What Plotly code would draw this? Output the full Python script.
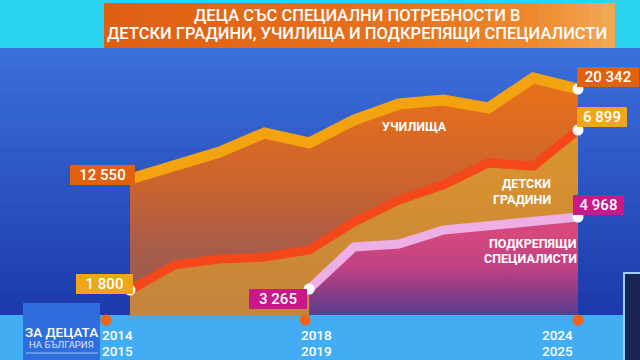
import plotly.graph_objects as go

# ---------------- data ----------------
years = ["2014/2015", "2015/2016", "2016/2017", "2017/2018", "2018/2019", "2019/2020",
         "2020/2021", "2021/2022", "2022/2023", "2023/2024", "2024/2025"]
schools = [12550, 13680, 14890, 16530, 15670, 17660, 19040, 19390, 18700, 21300, 20342]
kindergartens = [1800, 2600, 2790, 2850, 3080, 3970, 4670, 5150, 5850, 5750, 6899]
specialist_years = years[4:]
specialists = [3265, 4260, 4330, 4660, 4760, 4850, 4968]
tick_years = [years[0], years[4], years[10]]
title_lines = ["ДЕЦА СЪС СПЕЦИАЛНИ ПОТРЕБНОСТИ В",
               "ДЕТСКИ ГРАДИНИ, УЧИЛИЩА И ПОДКРЕПЯЩИ СПЕЦИАЛИСТИ"]
name_schools = ["УЧИЛИЩА"]
name_kinder = ["ДЕТСКИ", "ГРАДИНИ"]
name_spec = ["ПОДКРЕПЯЩИ", "СПЕЦИАЛИСТИ"]
logo_lines = ["ЗА ДЕЦАТА", "НА БЪЛГАРИЯ"]

# ---------------- layout helpers ----------------
W, H = 640, 360
TOP, BASE = 48, 315
FONT = "Roboto"


def px(x):
    return x / W


def py(y):
    return (BASE - y) / (BASE - TOP)


def hex2rgb(h):
    h = h.lstrip("#")
    return tuple(int(h[i:i + 2], 16) for i in (0, 2, 4))


def lerp(c1, c2, t):
    a, b = hex2rgb(c1), hex2rgb(c2)
    return "rgb(%d,%d,%d)" % tuple(round(a[i] + (b[i] - a[i]) * t) for i in range(3))


def fmt(v):
    return f"{v:,}".replace(",", " ")


Y_SCH = [775, 23892]
Y_KIN = [1003, 9513]
Y_SPE = [2650, 8965]

fig = go.Figure()

# schools area
fig.add_trace(go.Scatter(
    x=years, y=schools, yaxis="y", mode="lines", fill="tozeroy",
    line=dict(color="#f3a30f", width=11),
    fillgradient=dict(type="vertical", start=Y_SCH[0], stop=Y_SCH[1],
                      colorscale=[[0, "#985a52"], [0.24, "#a65c4a"], [0.5, "#cc642e"],
                                  [0.8, "#e46e1c"], [1, "#ea721a"]]),
    hoverinfo="skip"))
# kindergarten area
fig.add_trace(go.Scatter(
    x=years, y=kindergartens, yaxis="y2", mode="lines", fill="tozeroy",
    line=dict(color="#f4471a", width=9),
    fillgradient=dict(type="vertical", start=Y_KIN[0], stop=Y_KIN[1],
                      colorscale=[[0, "#c4843c"], [0.5, "#d69030"], [1, "#e09a28"]]),
    hoverinfo="skip"))
# specialists area
fig.add_trace(go.Scatter(
    x=specialist_years, y=specialists, yaxis="y3", mode="lines", fill="tozeroy",
    line=dict(color="#eeaee6", width=9),
    fillgradient=dict(type="vertical", start=Y_SPE[0], stop=Y_SPE[1],
                      colorscale=[[0, "#55408f"], [0.08, "#8a3c88"], [0.18, "#c04282"],
                                  [0.3, "#d4487e"], [1, "#e0508a"]]),
    hoverinfo="skip"))

# end dots
for xs, ys, ax in [([years[0], years[-1]], [schools[0], schools[-1]], "y"),
                   ([years[0], years[-1]], [kindergartens[0], kindergartens[-1]], "y2"),
                   ([specialist_years[0], specialist_years[-1]], [specialists[0], specialists[-1]], "y3")]:
    fig.add_trace(go.Scatter(x=xs, y=ys, yaxis=ax, mode="markers",
                             marker=dict(color="white", size=11), cliponaxis=False,
                             hoverinfo="skip"))

# ---------------- shapes ----------------
shapes = []
# blue chart background gradient
N = 24
for i in range(N):
    y0 = TOP + i * (BASE - TOP) / N
    y1 = TOP + (i + 1) * (BASE - TOP) / N + 0.5
    shapes.append(dict(type="rect", xref="paper", yref="paper", x0=0, x1=1,
                       y0=py(y1), y1=py(y0), line_width=0, layer="below",
                       fillcolor=lerp("#3b6fd9", "#1c3aab", i / (N - 1))))
# bottom light-blue band
shapes.append(dict(type="rect", xref="paper", yref="paper", x0=0, x1=1,
                   y0=py(H), y1=py(BASE), line_width=0, layer="below", fillcolor="#42adf2"))
# title box gradient
TX0, TX1, TY0, TY1 = 104, 615, 3, 48
M = 40
stops = [(0, "#df5f12"), (0.6, "#e8731e"), (0.85, "#ee8a2c"), (1, "#f4a652")]


def grad(t):
    for (a, ca), (b, cb) in zip(stops[:-1], stops[1:]):
        if t <= b:
            return lerp(ca, cb, (t - a) / (b - a))
    return stops[-1][1]


for i in range(M):
    x0 = TX0 + i * (TX1 - TX0) / M
    x1 = TX0 + (i + 1) * (TX1 - TX0) / M + 0.5
    shapes.append(dict(type="rect", xref="paper", yref="paper", x0=px(x0), x1=px(min(x1, TX1)),
                       y0=py(TY1), y1=py(TY0), line_width=0, layer="above",
                       fillcolor=grad(i / (M - 1))))
# logo box
shapes.append(dict(type="rect", xref="paper", yref="paper", x0=px(23), x1=px(100),
                   y0=py(H), y1=py(303), line_width=0, layer="above", fillcolor="#2f6ddf"))
shapes.append(dict(type="line", xref="paper", yref="paper", x0=px(26), x1=px(98),
                   y0=py(353), y1=py(353), line=dict(color="#9cc0f4", width=1), layer="above"))
# presenter inset at right edge
shapes.append(dict(type="rect", xref="paper", yref="paper", x0=px(624), x1=px(642),
                   y0=py(H + 2), y1=py(273), line=dict(color="#9ad2f5", width=2),
                   layer="above", fillcolor="#1a2452"))
# x tick dots (orange circles at the baseline)
dot_xshift = [-24, -4, 0]
for ty, ds in zip(tick_years, dot_xshift):
    shapes.append(dict(type="circle", xref="x", yref="paper", xsizemode="pixel",
                       ysizemode="pixel", xanchor=ty, yanchor=py(320),
                       x0=ds - 5.5, x1=ds + 5.5, y0=-5.5, y1=5.5,
                       fillcolor="#f0641a", line_width=0, layer="above"))

# ---------------- annotations ----------------
ann = []
white = "white"
# title
for line, yy in zip(title_lines, [15.5, 33]):
    ann.append(dict(text=line, xref="paper", yref="paper", x=px(357), y=py(yy),
                    xanchor="center", yanchor="middle", showarrow=False,
                    font=dict(family=FONT, size=16.5, color=white, weight=500)))
# value labels
vlabels = [
    (years[0], schools[0], "y", "#e0620f", "right", 5, 4, 61),
    (years[0], kindergartens[0], "y2", "#f0a51a", "right", 3, 6, 53),
    (specialist_years[0], specialists[0], "y3", "#c8188a", "right", -2, -10, 54),
    (years[-1], schools[-1], "y", "#e0620f", "left", -1, 12.5, 58),
    (years[-1], kindergartens[-1], "y2", "#f0a51a", "left", -1, 13, 46),
    (specialist_years[-1], specialists[-1], "y3", "#c8188a", "left", -5, 12, 47),
]
for x, v, ax, col, xa, xs, ys, w in vlabels:
    ann.append(dict(text=fmt(v), x=x, y=v, xref="x", yref=ax, xanchor=xa, yanchor="middle",
                    xshift=xs, yshift=ys, showarrow=False, bgcolor=col, borderpad=2,
                    borderwidth=0, width=w, height=16, align="center",
                    font=dict(family=FONT, size=15, color=white, weight=500)))
# series names
ann.append(dict(text=name_schools[0], xref="paper", yref="paper", x=px(414), y=py(127),
                xanchor="center", yanchor="middle", showarrow=False,
                font=dict(family=FONT, size=12.5, color=white, weight=700)))
for line, yy in zip(name_kinder, [183, 199]):
    ann.append(dict(text=line, xref="paper", yref="paper", x=px(553), y=py(yy),
                    xanchor="right", yanchor="middle", showarrow=False,
                    font=dict(family=FONT, size=12.5, color=white, weight=700)))
for line, yy in zip(name_spec, [243, 258]):
    ann.append(dict(text=line, xref="paper", yref="paper", x=px(579), y=py(yy),
                    xanchor="right", yanchor="middle", showarrow=False,
                    font=dict(family=FONT, size=12.5, color=white, weight=700)))
# x tick labels (two lines each)
tick_xshift = [-13, 7, -21]
for ty, xs in zip(tick_years, tick_xshift):
    for part, yy in zip(ty.split("/"), [335, 350.5]):
        ann.append(dict(text=part, x=ty, xref="x", yref="paper", y=py(yy), xshift=xs,
                        xanchor="center", yanchor="middle", showarrow=False,
                        font=dict(family=FONT, size=13.5, color=white, weight=500)))
# logo
ann.append(dict(text=logo_lines[0], xref="paper", yref="paper", x=px(61.5), y=py(331.5),
                xanchor="center", yanchor="middle", showarrow=False,
                font=dict(family=FONT, size=13.5, color=white, weight=500)))
ann.append(dict(text=logo_lines[1], xref="paper", yref="paper", x=px(61.5), y=py(344),
                xanchor="center", yanchor="middle", showarrow=False,
                font=dict(family=FONT, size=9.5, color="#dce8ff")))

span = 578 - 130
step = span / (len(years) - 1)
fig.update_layout(
    width=W, height=H,
    margin=dict(l=0, r=0, t=TOP, b=H - BASE, pad=0),
    paper_bgcolor="#2ad3f0", plot_bgcolor="#2a55c4",
    showlegend=False,
    xaxis=dict(type="category", categoryorder="array", categoryarray=years,
               range=[-130 / step, len(years) - 1 + (W - 578) / step], visible=False),
    yaxis=dict(range=Y_SCH, visible=False),
    yaxis2=dict(range=Y_KIN, overlaying="y", visible=False),
    yaxis3=dict(range=Y_SPE, overlaying="y", visible=False),
    shapes=shapes, annotations=ann,
)
fig.write_html("out.html", config={"displayModeBar": False},
               post_script="document.body.style.margin='0';document.body.style.overflow='hidden';")
